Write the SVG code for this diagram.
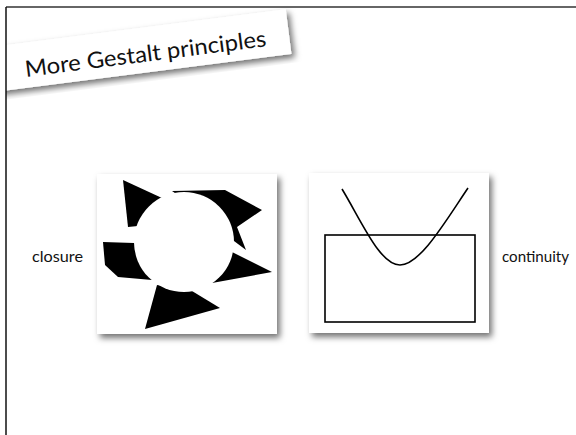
<svg xmlns="http://www.w3.org/2000/svg" width="576" height="435" viewBox="0 0 576 435">
<style>
.lbl{font-family:Lato,"Open Sans","DejaVu Sans",sans-serif;font-size:14.5px;fill:#111}
.ttl{font-family:Lato,"Open Sans","DejaVu Sans",sans-serif;font-size:22.5px;fill:#111}
.panel{fill:#fff;filter:url(#sh)}
.blk{fill:#000}
.ln{fill:none;stroke:#000;stroke-width:1.6}
</style>
<defs>
<filter id="sh" x="-10%" y="-10%" width="130%" height="130%">
<feDropShadow dx="3" dy="4" stdDeviation="3" flood-color="#000" flood-opacity="0.55"/>
</filter>
<clipPath id="inside"><rect x="6" y="0" width="570" height="435"/></clipPath>
</defs>
<rect width="576" height="435" fill="#fff"/>
<g id="title" clip-path="url(#inside)">
<g transform="rotate(-7.3 7 45)">
<rect class="panel" x="-10" y="45" width="298" height="45"/>
</g>
<text class="ttl" x="26" y="77" transform="rotate(-7.3 26 77)" textLength="243" lengthAdjust="spacingAndGlyphs">More Gestalt principles</text>
</g>
<g id="frame">
<line x1="6" y1="7" x2="576" y2="7" stroke="#333" stroke-width="1.5"/>
<line x1="6" y1="7" x2="6" y2="435" stroke="#111" stroke-width="1.5"/>
</g>
<g id="closure-panel">
<rect class="panel" x="97" y="174" width="180" height="160"/>
<polygon class="blk" points="123,180 162,198 175,215 138,226 128,227"/>
<polygon class="blk" points="172,191 225,190 262,210 237,227 246,250 230,238 200,210"/>
<polygon class="blk" points="103,242 134,243 160,260 152,280 118,277 105,265"/>
<polygon class="blk" points="232,252 272,272 212,283 215,265"/>
<polygon class="blk" points="157,285 192,291 220,308 145,329"/>
<circle cx="184" cy="242" r="50" fill="#fff"/>
</g>
<g id="continuity-panel">
<rect class="panel" x="309" y="173" width="180" height="160"/>
<rect class="ln" x="325" y="235" width="150" height="87"/>
<path class="ln" d="M342,189 C362,222 380,265 400,265 C420,265 445,222 468,188"/>
</g>
<g id="connectors"></g>
<g id="labels">
<text class="lbl" x="32" y="262" textLength="51" lengthAdjust="spacingAndGlyphs">closure</text>
<text class="lbl" x="502" y="262" textLength="67" lengthAdjust="spacingAndGlyphs">continuity</text>
</g>
</svg>
